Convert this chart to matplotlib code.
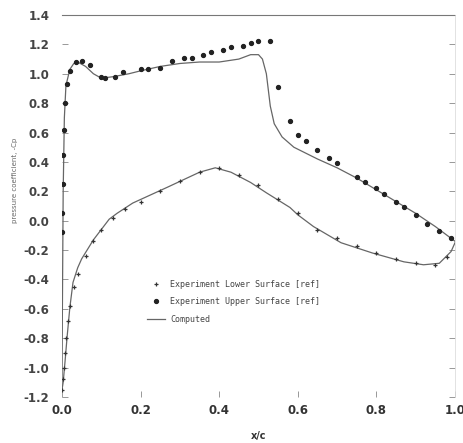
import matplotlib
matplotlib.use("Agg")
import matplotlib.pyplot as plt

# Upper surface, experiment
x_up_exp = [0.0, 0.001, 0.002, 0.003, 0.005, 0.008, 0.012, 0.02, 0.035, 0.05, 0.07, 0.1, 0.11,
            0.135, 0.155, 0.2, 0.22, 0.25, 0.28, 0.31, 0.33, 0.36, 0.38, 0.41, 0.43, 0.46,
            0.48, 0.50, 0.53, 0.55, 0.58, 0.60, 0.62, 0.65, 0.68, 0.70, 0.75, 0.77, 0.80,
            0.82, 0.85, 0.87, 0.90, 0.93, 0.96, 0.99]
cp_up_exp = [-0.08, 0.05, 0.25, 0.45, 0.62, 0.8, 0.93, 1.02, 1.08, 1.09, 1.06, 0.98, 0.97,
             0.98, 1.01, 1.03, 1.03, 1.04, 1.09, 1.11, 1.11, 1.13, 1.15, 1.16, 1.18, 1.19,
             1.21, 1.22, 1.22, 0.91, 0.68, 0.58, 0.54, 0.48, 0.43, 0.39, 0.30, 0.26, 0.22,
             0.18, 0.13, 0.09, 0.04, -0.02, -0.07, -0.12]

# Lower surface, experiment
x_lo_exp = [0.0, 0.002, 0.004, 0.007, 0.01, 0.015, 0.02, 0.03, 0.04, 0.06, 0.08, 0.1, 0.13,
            0.16, 0.2, 0.25, 0.3, 0.35, 0.4, 0.45, 0.5, 0.55, 0.6, 0.65, 0.7, 0.75, 0.8,
            0.85, 0.9, 0.95, 0.98]
cp_lo_exp = [-1.15, -1.08, -1.0, -0.9, -0.8, -0.68, -0.58, -0.45, -0.36, -0.24, -0.14,
             -0.06, 0.02, 0.08, 0.13, 0.2, 0.27, 0.33, 0.36, 0.31, 0.24, 0.15, 0.05, -0.06,
             -0.12, -0.17, -0.22, -0.26, -0.29, -0.30, -0.25]

# Computed (upper then lower)
x_up_cfd = [0.0, 0.001, 0.003, 0.006, 0.01, 0.02, 0.03, 0.04, 0.06, 0.08, 0.1, 0.13, 0.17,
            0.2, 0.25, 0.3, 0.35, 0.4, 0.45, 0.48, 0.5, 0.51, 0.52, 0.53, 0.54, 0.56, 0.59,
            0.62, 0.65, 0.7, 0.75, 0.8, 0.85, 0.9, 0.95, 1.0]
cp_up_cfd = [-1.15, -0.6, 0.2, 0.7, 0.92, 1.03, 1.07, 1.08, 1.05, 1.0, 0.97, 0.98, 1.0,
             1.02, 1.05, 1.07, 1.08, 1.08, 1.1, 1.13, 1.13, 1.1, 1.0, 0.78, 0.66, 0.57,
             0.5, 0.46, 0.42, 0.36, 0.29, 0.21, 0.13, 0.05, -0.04, -0.14]
x_lo_cfd = [0.0, 0.003, 0.008, 0.013, 0.02, 0.028, 0.04, 0.05, 0.08, 0.12, 0.14, 0.18, 0.27,
            0.35, 0.39, 0.43, 0.48, 0.52, 0.58, 0.6, 0.64, 0.71, 0.79, 0.87, 0.92, 0.96,
            0.99, 1.0]
cp_lo_cfd = [-1.15, -1.1, -0.95, -0.79, -0.59, -0.42, -0.32, -0.26, -0.13, 0.01, 0.05,
             0.12, 0.23, 0.33, 0.36, 0.33, 0.26, 0.19, 0.09, 0.04, -0.04, -0.15, -0.22,
             -0.28, -0.30, -0.29, -0.21, -0.15]

xticks = [0.0, 0.2, 0.4, 0.6, 0.8, 1.0]
yticks = [1.4, 1.2, 1.0, 0.8, 0.6, 0.4, 0.2, 0.0, -0.2, -0.4, -0.6, -0.8, -1.0, -1.2]

fig = plt.figure(figsize=(4.64, 4.43), dpi=100)
ax = fig.add_axes([62/464, 1-397/443, (455-62)/464, (397-15)/443])

ax.plot(x_up_cfd, cp_up_cfd, color="#666666", lw=0.9, label="Computed", zorder=2)
ax.plot(x_lo_cfd, cp_lo_cfd, color="#666666", lw=0.9, zorder=2)
ax.plot(x_lo_exp, cp_lo_exp, ls="none", marker="+", ms=3.0, mew=0.9, color="#333333",
        label="Experiment Lower Surface [ref]", zorder=3)
ax.plot(x_up_exp, cp_up_exp, ls="none", marker="o", ms=2.8, color="#222222",
        label="Experiment Upper Surface [ref]", zorder=3)

ax.set_xlim(0.0, 1.0)
ax.set_ylim(-1.2, 1.4)
ax.set_xticks(xticks)
ax.set_xticklabels([f"{v:.1f}" for v in xticks], fontsize=8.5, fontweight="bold", color="#333333")
ax.set_yticks(yticks)
ax.set_yticklabels([f"{v:.1f}" for v in yticks], fontsize=8.5, fontweight="bold", color="#444444")
ax.tick_params(axis="both", direction="in", length=4, width=0.6, color="#888888", pad=5,
               right=True)
ax.tick_params(axis="y", pad=9)

for s in ["left", "bottom"]:
    ax.spines[s].set_visible(False)
ax.spines["top"].set_linestyle((0, (2, 1)))
ax.spines["top"].set_color("#777777")
ax.spines["top"].set_linewidth(0.8)
ax.spines["right"].set_color("#dddddd")
ax.spines["right"].set_linewidth(0.6)

ax.set_xlabel("x/c", fontsize=7, fontweight="bold", color="#333333", labelpad=10)
fig.text(15/464, 1-180/443, "pressure coefficient, -Cp", rotation=90, fontsize=5,
         color="#666666", ha="center", va="center")

handles, labels = ax.get_legend_handles_labels()
order = [1, 2, 0]
leg = ax.legend([handles[i] for i in order], [labels[i] for i in order],
                loc="upper left", bbox_to_anchor=(147/464, 1-280/443),
                bbox_transform=fig.transFigure, frameon=False, borderpad=0,
                borderaxespad=0, handlelength=2.2, handletextpad=0.6, labelspacing=1.0,
                prop={"family": "DejaVu Sans Mono", "size": 6})
for t in leg.get_texts():
    t.set_color("#444444")

fig.savefig("out.png", dpi=100)
